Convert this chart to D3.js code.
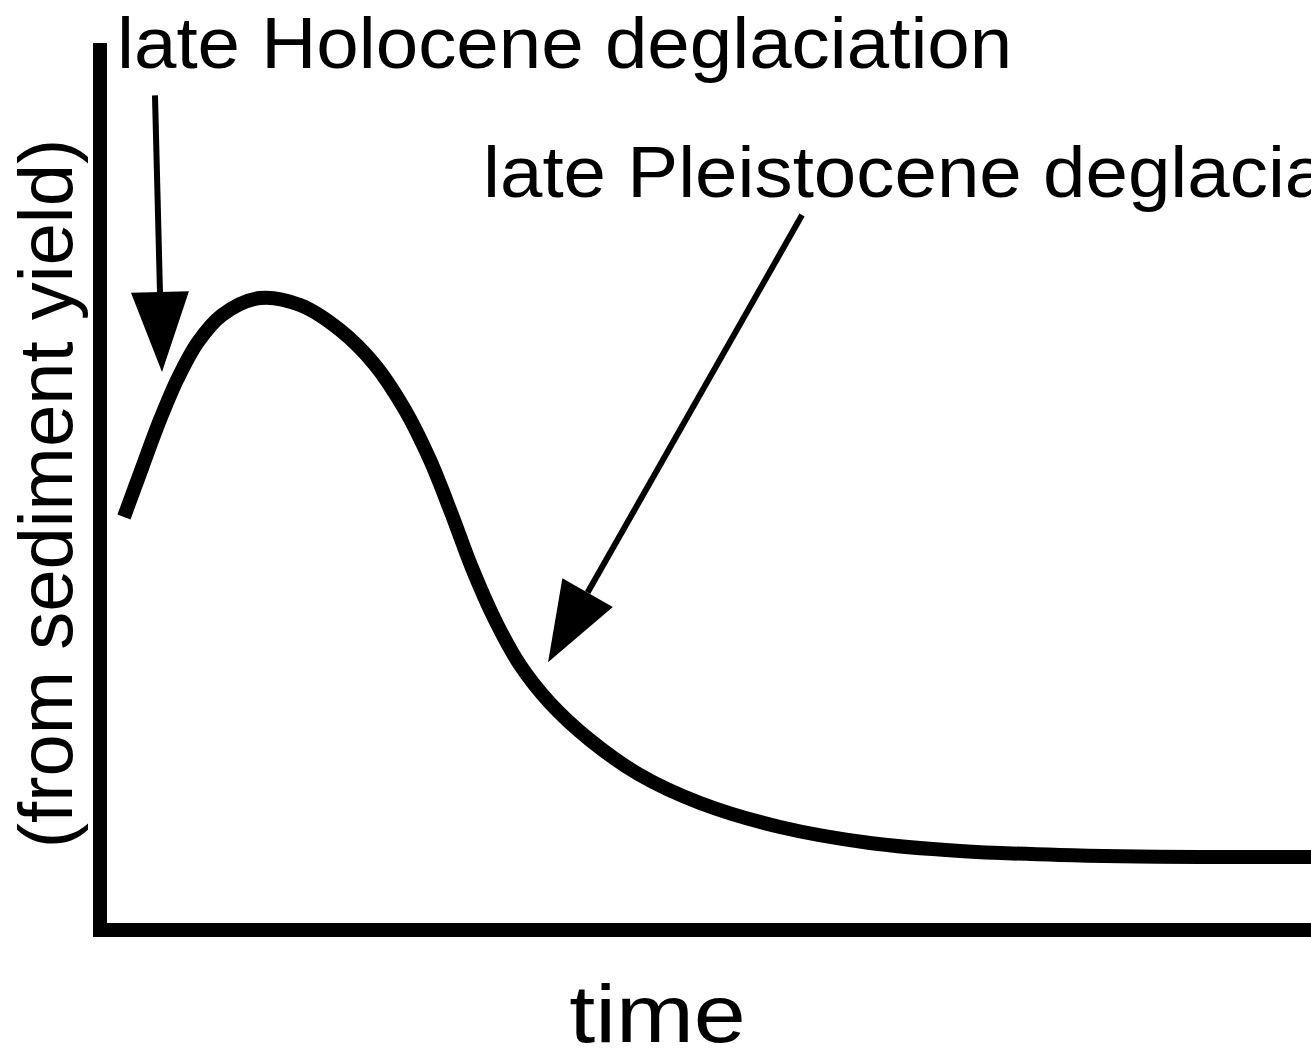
<!DOCTYPE html>
<html>
<head>
<meta charset="utf-8">
<script src="https://cdn.jsdelivr.net/npm/d3@7"></script>
<style>
  html, body { margin: 0; padding: 0; background: #fff; overflow: hidden; }
  svg { display: block; }
  text { font-family: "Liberation Sans", Arial, Helvetica, sans-serif; fill: #000; }
</style>
</head>
<body>
<script>
// ---- data (time and yield in arbitrary units 0-100) ----
const curveTime  = [1.98, 3.47, 4.95, 6.44, 8.09, 10.07, 13.21, 16.52, 19.82, 22.71, 25.19, 27.25, 29.07, 30.72, 32.62, 34.68, 37.16, 40.46, 44.59, 49.55, 56.15, 63.58, 71.02, 79.27, 90.83, 100, 102.4];
const curveYield = [46.56, 52.09, 57.50, 62.23, 66.29, 69.33, 71.25, 70.46, 67.64, 63.70, 58.62, 52.99, 46.79, 40.81, 34.95, 29.88, 25.59, 21.42, 17.47, 14.32, 11.61, 9.81, 8.91, 8.46, 8.23, 8.23, 8.23];

const arrowLabels = ["late Holocene deglaciation", "late Pleistocene deglaciation"];
const arrowTailTime  = [4.54, 57.97];
const arrowTailYield = [94.1, 80.6];
const arrowTipTime   = [5.12, 37.0];
const arrowTipYield  = [62.9, 30.2];

const xLabel = "time";
const yLabel = "(from sediment yield)";

// ---- layout ----
const W = 1311, H = 1050;
const svg = d3.select("body").append("svg").attr("width", W).attr("height", H);

const x = d3.scaleLinear().domain([0, 100]).range([100, 1311]);
const y = d3.scaleLinear().domain([0, 100]).range([930, 43]);

// axes (no ticks, thick domain lines)
const gx = svg.append("g").attr("transform", "translate(0,930)")
  .call(d3.axisBottom(x).ticks(0).tickSizeOuter(0));
gx.select(".domain").attr("d", `M${x(0)},0H${x(100) + 20}`)
  .attr("stroke", "#000").attr("stroke-width", 14).attr("stroke-linecap", "square");

const gy = svg.append("g").attr("transform", "translate(100,0)")
  .call(d3.axisLeft(y).ticks(0).tickSizeOuter(0));
gy.select(".domain").attr("d", `M0,${y(100)}V${y(0)}`)
  .attr("stroke", "#000").attr("stroke-width", 14).attr("stroke-linecap", "butt");

// curve
const pts = curveTime.map((t, i) => [t, curveYield[i]]);
const line = d3.line().x(d => x(d[0])).y(d => y(d[1])).curve(d3.curveCatmullRom.alpha(0.5));
svg.append("path").attr("d", line(pts))
  .attr("fill", "none").attr("stroke", "#000").attr("stroke-width", 14)
  .attr("stroke-linecap", "butt").attr("stroke-linejoin", "round");

// arrows
const headLen = 80, headHalf = 29;
arrowLabels.forEach((lab, i) => {
  const x0 = x(arrowTailTime[i]), y0 = y(arrowTailYield[i]);
  const x1 = x(arrowTipTime[i]),  y1 = y(arrowTipYield[i]);
  const ang = Math.atan2(y1 - y0, x1 - x0);
  const bx = x1 - headLen * Math.cos(ang), by = y1 - headLen * Math.sin(ang);
  svg.append("line").attr("x1", x0).attr("y1", y0).attr("x2", bx).attr("y2", by)
    .attr("stroke", "#000").attr("stroke-width", 6);
  const px = -Math.sin(ang) * headHalf, py = Math.cos(ang) * headHalf;
  svg.append("path")
    .attr("d", `M${x1},${y1}L${bx + px},${by + py}L${bx - px},${by - py}Z`)
    .attr("fill", "#000");
});

// annotation labels
svg.append("text").attr("transform", "translate(117,68) scale(1.06,1)")
  .attr("font-size", 72).text(arrowLabels[0]);
svg.append("text").attr("transform", "translate(483,197) scale(1.06,1)")
  .attr("font-size", 72).text(arrowLabels[1]);

// axis titles
svg.append("text").attr("transform", "translate(657.5,1042) scale(1.14,1)")
  .attr("font-size", 82).attr("text-anchor", "middle").text(xLabel);
svg.append("text").attr("transform", "translate(72,493.5) rotate(-90)")
  .attr("font-size", 76).attr("text-anchor", "middle").text(yLabel);
</script>
</body>
</html>
